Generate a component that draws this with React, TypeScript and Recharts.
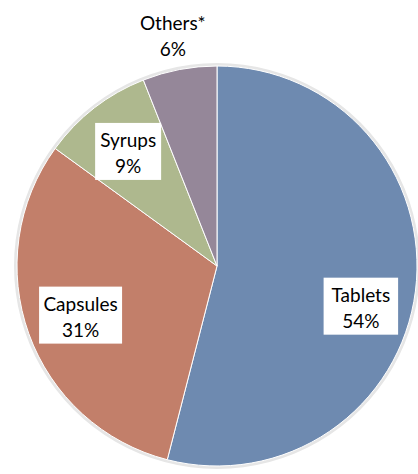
import React from 'react';
import { PieChart, Pie, Cell } from 'recharts';

// dosage form shares (%)
const categories = ['Tablets', 'Capsules', 'Syrups', 'Others*'];
const shares = [54, 31, 9, 6];
const colors = ['#6E8AB0', '#C27F6A', '#AEB88E', '#958799'];

const data = categories.map((name, i) => ({ name, value: shares[i] }));

const RAD = Math.PI / 180;
const FONT = 'Lato, "Open Sans", sans-serif';

const renderLabel = (props: any) => {
  const { cx, cy, midAngle, outerRadius, index } = props;
  const name = categories[index];
  const pct = `${shares[index]}%`;
  const outside = shares[index] < 8;
  const r = outside ? outerRadius * 1.18 : outerRadius * 0.725;
  const x = cx + r * Math.cos(-midAngle * RAD);
  let y = cy + r * Math.sin(-midAngle * RAD);
  // big slice: excel pushes the label a bit lower
  if (shares[index] > 50) y += outerRadius * 0.11;
  const w = name.length * 8.5 + 15;
  const h = 57;
  return (
    <g key={`lbl-${index}`}>
      {!outside && <rect x={x - w / 2} y={y - h / 2} width={w} height={h} fill="#ffffff" />}
      <text x={x} y={y - 12} textAnchor="middle" dominantBaseline="central" fontSize={19} fontFamily={FONT} fill="#000">
        {name}
      </text>
      <text x={x} y={y + 14} textAnchor="middle" dominantBaseline="central" fontSize={19} fontFamily={FONT} fill="#000">
        {pct}
      </text>
    </g>
  );
};

export default function App() {
  return (
    <div style={{ position: 'absolute', left: 0, top: 0, width: 418, height: 474, background: '#fff' }}>
      <PieChart width={418} height={474} margin={{ top: 0, right: 0, bottom: 0, left: 0 }}>
        {/* faint outline ring behind the pie */}
        <Pie
          data={[{ value: 1 }]}
          dataKey="value"
          cx={217}
          cy={266}
          outerRadius={203}
          fill="#e6e6e6"
          stroke="none"
          isAnimationActive={false}
        />
        <Pie
          data={data}
          dataKey="value"
          nameKey="name"
          cx={217}
          cy={266}
          outerRadius={200}
          startAngle={90}
          endAngle={-270}
          stroke="#ffffff"
          strokeWidth={1}
          labelLine={false}
          label={renderLabel}
          isAnimationActive={false}
        >
          {data.map((d, i) => (
            <Cell key={d.name} fill={colors[i]} />
          ))}
        </Pie>
      </PieChart>
    </div>
  );
}
